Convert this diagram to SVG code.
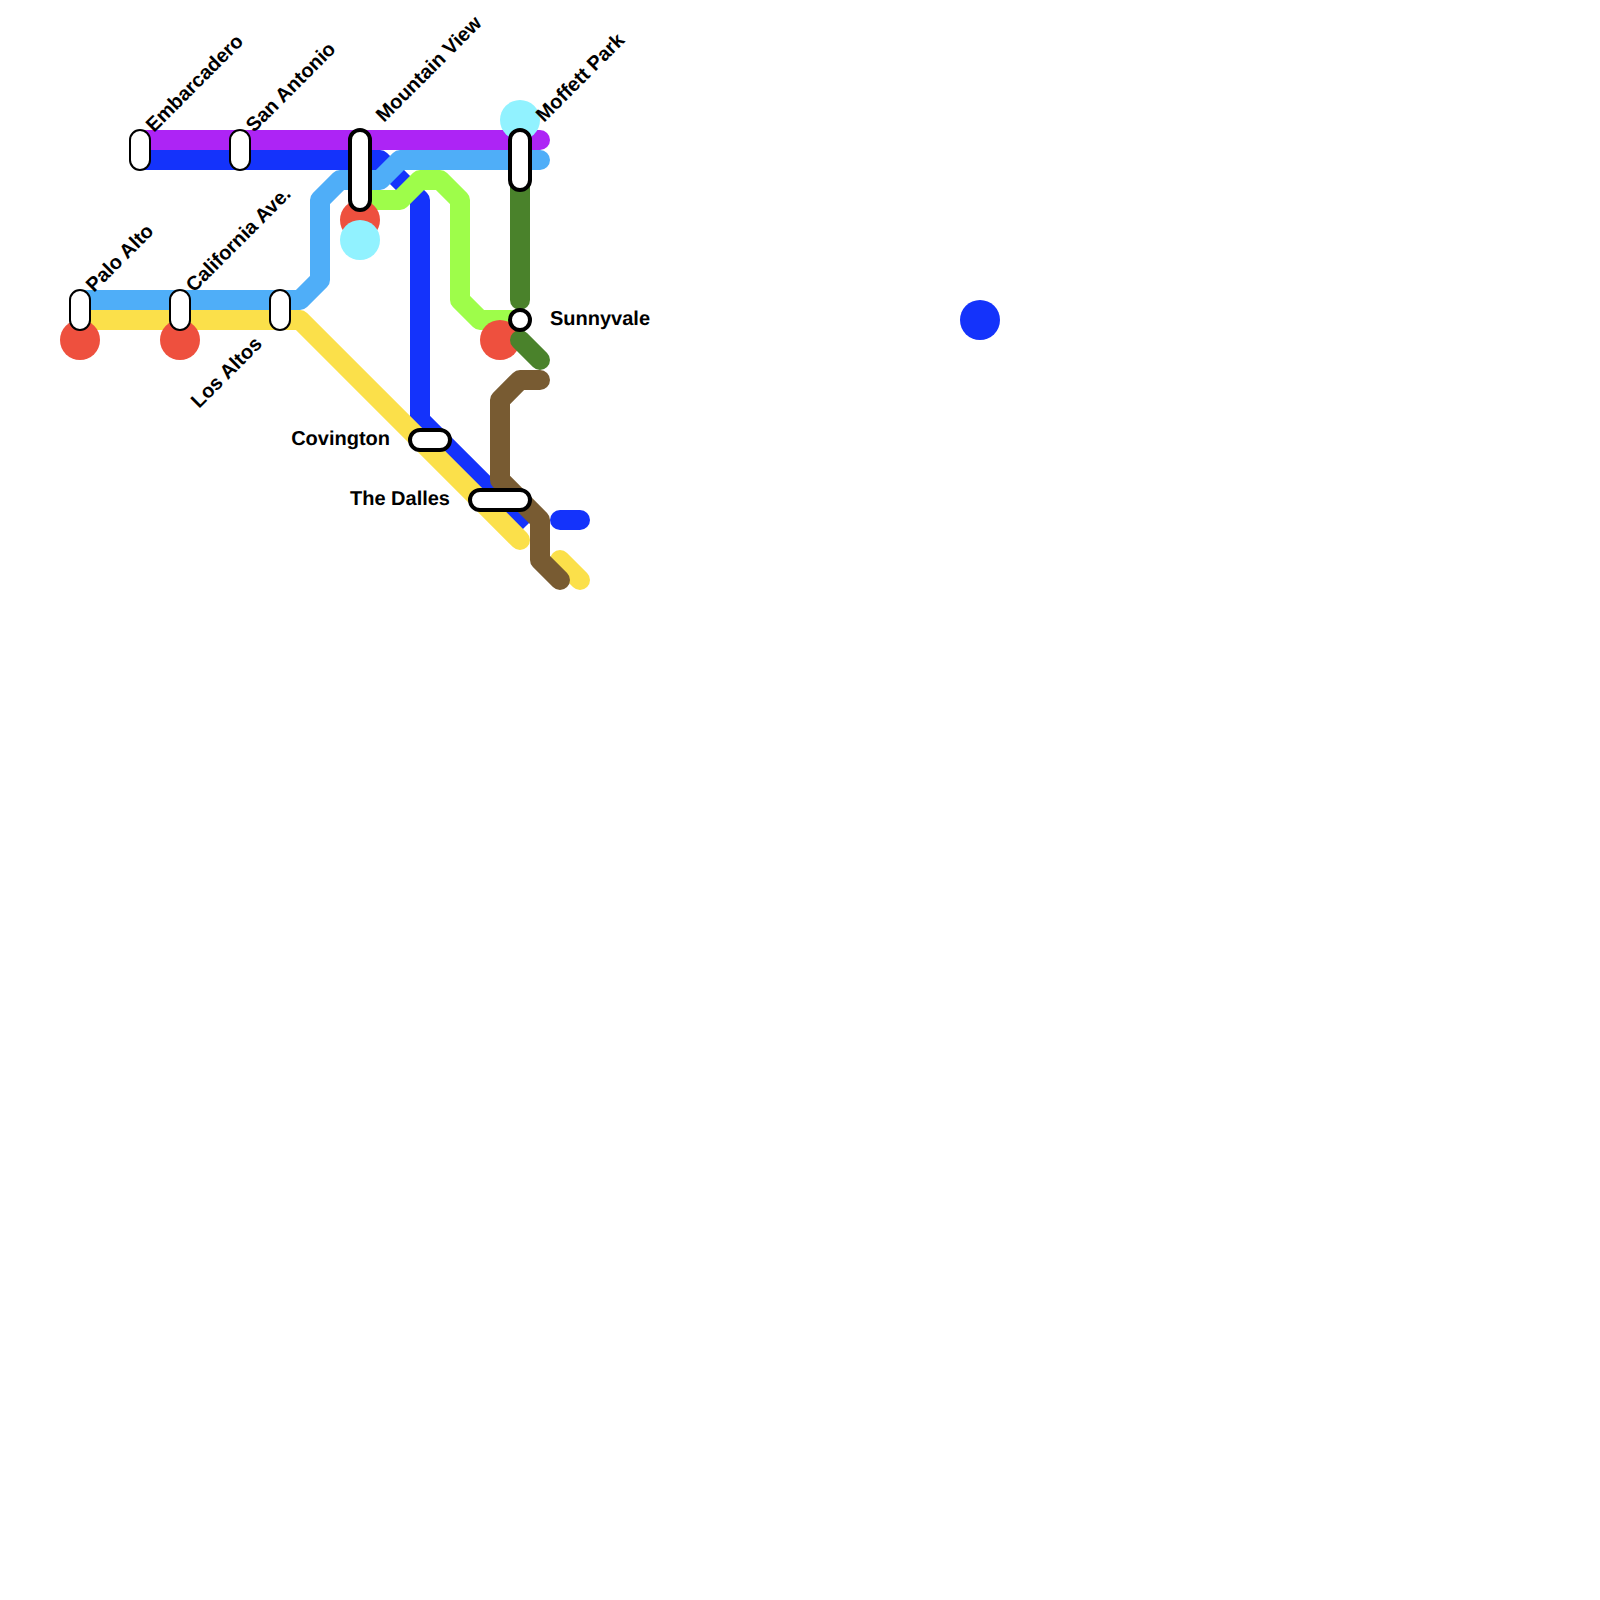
<svg xmlns="http://www.w3.org/2000/svg" width="1600" height="1600" viewBox="0 0 1600 1600">
<style>
.l{fill:none;stroke-width:20;stroke-linecap:round;stroke-linejoin:round}
.b{stroke-linecap:butt}
.s{fill:#fff;stroke:#000}
.t{font-family:"Liberation Sans",Arial,sans-serif;font-size:20px;font-weight:700;fill:#000;text-rendering:geometricPrecision}
.e{text-anchor:end}
</style>
<rect width="1600" height="1600" fill="#fff"/>
<g id="connectors">
<path class="l b" stroke="#1433FB" d="M140 160H380L420 200V420L526 526"/>
<path class="l" stroke="#1433FB" d="M560 520H580"/>
<path class="l" stroke="#FBE04A" d="M80 320H300L520 540"/>
<path class="l" stroke="#FBE04A" d="M560 560L580 580"/>
<path class="l" stroke="#AD24F5" d="M140 140H540"/>
<path class="l" stroke="#4FAEF8" d="M540 160H400L380 180H340L320 200V280L300 300H80"/>
<path class="l" stroke="#9EFD4A" d="M360 200H400L420 180H440L460 200V300L480 320H520"/>
</g>
<g id="interchange-markers">
<circle cx="80" cy="340" r="20" fill="#EE503E"/>
<circle cx="180" cy="340" r="20" fill="#EE503E"/>
<circle cx="360" cy="220" r="20" fill="#EE503E"/>
<circle cx="360" cy="240" r="20" fill="#91F2FF"/>
<circle cx="500" cy="340" r="20" fill="#EE503E"/>
<circle cx="520" cy="120" r="20" fill="#91F2FF"/>
<circle cx="980" cy="320" r="20" fill="#1433FB"/>
</g>
<g id="connectors-upper">
<path class="l" stroke="#4A822B" d="M520 180V300"/>
<path class="l" stroke="#4A822B" d="M520 340L540 360"/>
<path class="l" stroke="#785B32" d="M540 380H520L500 400V480L540 520V560L560 580"/>
</g>
<g id="palo-alto"><rect class="s" stroke-width="2" x="70" y="290" width="20" height="40" rx="10"/><text class="t" transform="translate(94 293) rotate(-45)">Palo Alto</text></g>
<g id="california-ave"><rect class="s" stroke-width="2" x="170" y="290" width="20" height="40" rx="10"/><text class="t" transform="translate(194 293) rotate(-45)">California Ave.</text></g>
<g id="los-altos"><rect class="s" stroke-width="2" x="270" y="290" width="20" height="40" rx="10"/><text class="t e" transform="translate(263 345) rotate(-45)">Los Altos</text></g>
<g id="embarcadero"><rect class="s" stroke-width="2" x="130" y="130" width="20" height="40" rx="10"/><text class="t" transform="translate(154 133) rotate(-45)">Embarcadero</text></g>
<g id="san-antonio"><rect class="s" stroke-width="2" x="230" y="130" width="20" height="40" rx="10"/><text class="t" transform="translate(254 133) rotate(-45)">San Antonio</text></g>
<g id="mountain-view"><rect class="s" stroke-width="4" x="350" y="130" width="20" height="80" rx="10"/><text class="t" transform="translate(384 123) rotate(-45)">Mountain View</text></g>
<g id="moffett-park"><rect class="s" stroke-width="4" x="510" y="130" width="20" height="60" rx="10"/><text class="t" transform="translate(544 123) rotate(-45)">Moffett Park</text></g>
<g id="sunnyvale"><circle class="s" stroke-width="4" cx="520" cy="320" r="10"/><text class="t" x="550" y="325">Sunnyvale</text></g>
<g id="covington"><rect class="s" stroke-width="4" x="410" y="430" width="40" height="20" rx="10"/><text class="t e" x="390" y="445">Covington</text></g>
<g id="the-dalles"><rect class="s" stroke-width="4" x="470" y="490" width="60" height="20" rx="10"/><text class="t e" x="450" y="505">The Dalles</text></g>
</svg>
